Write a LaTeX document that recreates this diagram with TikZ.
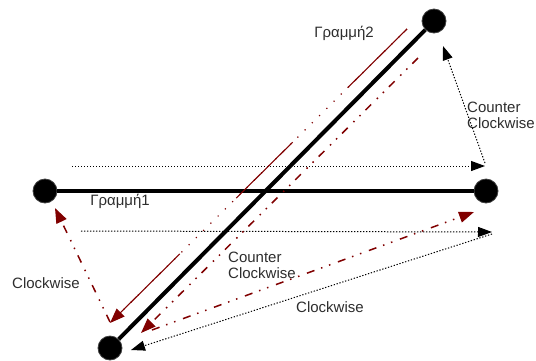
\documentclass[tikz,border=0pt]{standalone}
\usepackage{fontspec}
\setmainfont{Liberation Sans}
\usetikzlibrary{arrows.meta,calc}
\definecolor{dred}{RGB}{128,0,0}
\definecolor{txt}{RGB}{45,45,45}
\begin{document}
\begin{tikzpicture}[x=1pt,y=-1pt,
 dotnode/.style={circle,fill=black,draw=black!75,line width=0.8pt,minimum size=24pt,inner sep=0pt},
 seg/.style={line width=4pt},
 bdot/.style={line width=1pt,dash pattern=on 1.3pt off 1.7pt,-{Triangle[length=14pt,width=10pt]}},
 rdots/.style={dred,line width=1.2pt,dash pattern=on 1.2pt off 9pt,-{Triangle[length=15pt,width=11pt]}},
 rsolid/.style={dred,line width=1.1pt},
 rdd/.style={dred,line width=1.5pt,dash pattern=on 8pt off 7pt on 1.5pt off 7pt on 1.5pt off 8pt,-{Triangle[length=15pt,width=11pt]}},
 lbl/.style={text=txt,font=\fontsize{15}{16}\selectfont,inner sep=0pt,align=left}]
\useasboundingbox (0,0) rectangle (536,360);
% points
\node[dotnode] (A) at (45,191) {};
\node[dotnode] (B) at (486,191) {};
\node[dotnode] (C) at (434,21) {};
\node[dotnode] (D) at (110,348) {};
\draw[seg] (A) -- (B);
\draw[seg] (D) -- (C);
% black dotted arrows
\coordinate (t1) at (72,166);
\coordinate (t2) at (485,166);
\coordinate (t2s) at (485,163);
\coordinate (t3) at (443,46);
\coordinate (b1) at (81,231);
\coordinate (b2) at (492,232);
\coordinate (b3) at (492,234);
\coordinate (b4) at (131,350);
\draw[bdot] (t1) -- (t2);
\draw[bdot] (t2s) -- (t3);
\draw[bdot] (b1) -- (b2);
\draw[bdot] (b3) -- (b4);
% red arrows
\coordinate (r1s) at (407,29);
\coordinate (r1e) at (110,323);
\coordinate (r2s) at (418,58);
\coordinate (r2e) at (141,333);
\coordinate (r3s) at (152,330);
\coordinate (r3e) at (474,212);
\coordinate (r4s) at (110,322);
\coordinate (r4e) at (55,208);
\draw[rdots] (r1s) -- (r1e);
\draw[rsolid] (r1s) -- ($(r1s)!0.2!(r1e)$);
\draw[rsolid] ($(r1s)!0.385!(r1e)$) -- ($(r1s)!0.575!(r1e)$);
\draw[rsolid] ($(r1s)!0.765!(r1e)$) -- ($(r1s)!0.97!(r1e)$);
\draw[rdd] (r2s) -- (r2e);
\draw[rdd] (r3s) -- (r3e);
\draw[rdd] (r4s) -- (r4e);
% labels
\node[lbl] (l1) at (120,201) {Γραμμή1};
\node[lbl] (l2) at (344,33) {Γραμμή2};
\node[lbl,anchor=west] (cc1) at (467,115) {Counter\\Clockwise};
\node[lbl,anchor=west] (cc2) at (228,265) {Counter\\Clockwise};
\node[lbl] (cw1) at (46,283) {Clockwise};
\node[lbl] (cw2) at (330,307) {Clockwise};
\end{tikzpicture}
\end{document}
